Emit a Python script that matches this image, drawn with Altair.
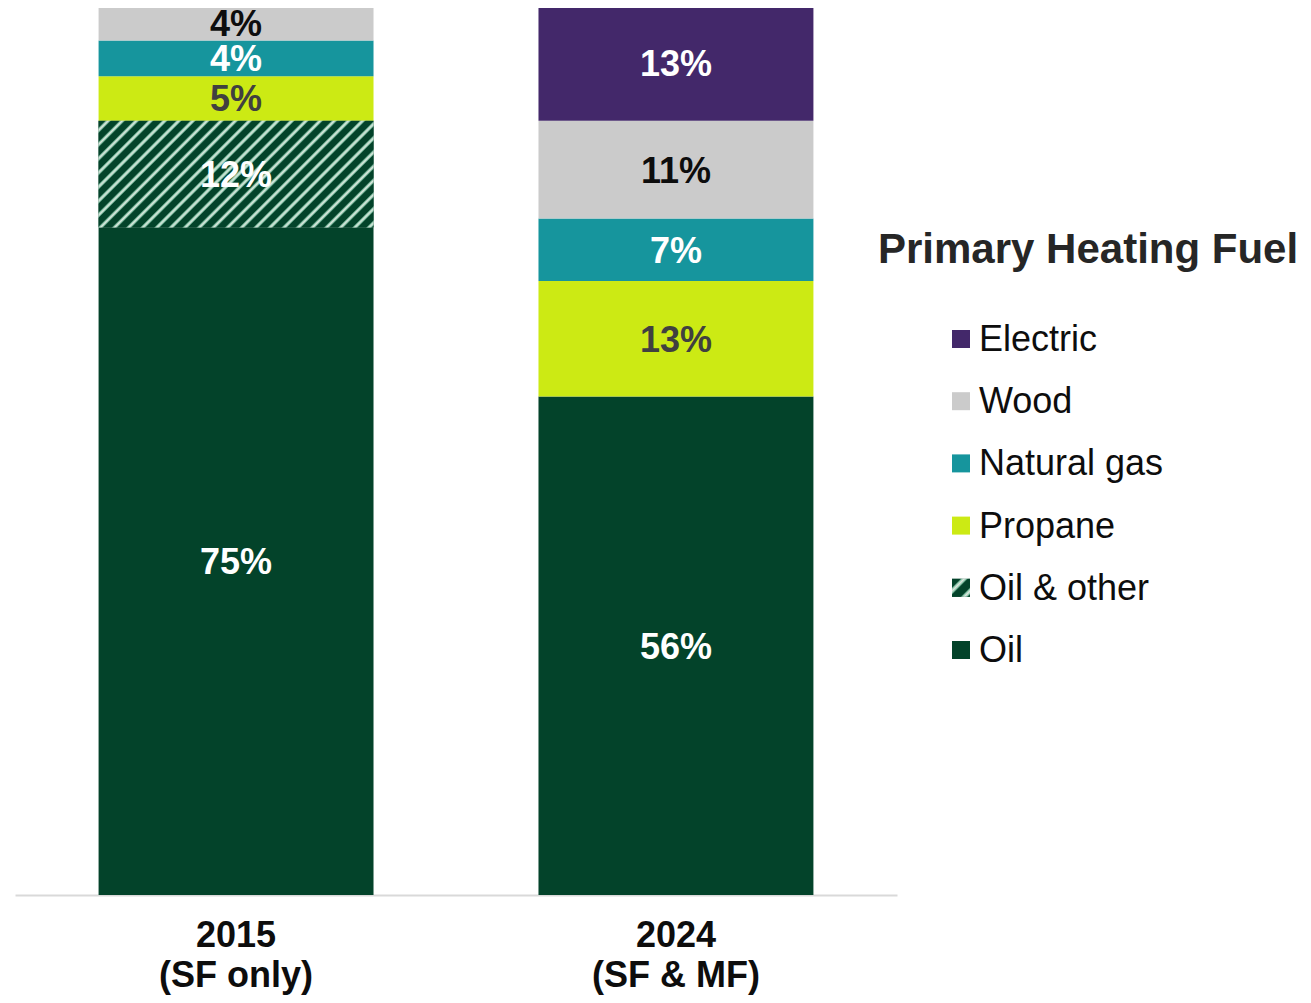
import altair as alt
import pandas as pd

# ---------------- data ----------------
years = ["2015 (SF only)", "2024 (SF & MF)"]
fuels = ["Oil", "Oil & other", "Propane", "Natural gas", "Wood", "Electric"]  # bottom -> top
share_2015 = [75, 12, 5, 4, 4, 0]
share_2024 = [56, 0, 13, 7, 11, 13]
fuel_colors = ["#03432A", "#03432A", "#CCEA14", "#16959D", "#CBCBCB", "#43286A"]
label_colors = ["#FFFFFF", "#FFFFFF", "#404040", "#FFFFFF", "#0D0D0D", "#FFFFFF"]
legend_order = ["Electric", "Wood", "Natural gas", "Propane", "Oil & other", "Oil"]
legend_title = "Primary Heating Fuel"
hatched_fuel = "Oil & other"

rows = []
for yr, vals in zip(years, [share_2015, share_2024]):
    for i, (f, v) in enumerate(zip(fuels, vals)):
        if v > 0:
            rows.append({"year": yr, "fuel": f, "value": v, "rank": i, "tcolor": label_colors[i]})
df = pd.DataFrame(rows)
df_leg = pd.DataFrame({"fuel": legend_order})
df_title = pd.DataFrame({"t": [legend_title]})

# ---------------- styling helpers ----------------
FONT = "Liberation Sans"
DARK = "#03432A"
MINT = "#93CDB2"
LIGHT = "#DEE5DE"


def stripes(n, x2, y2):
    stops = []
    for i in range(n):
        b = i / n
        w = 1.0 / n
        for off, col in [(0.0, DARK), (0.45, DARK), (0.57, MINT), (0.68, LIGHT), (0.79, MINT), (0.91, DARK)]:
            stops.append({"offset": round(b + off * w, 5), "color": col})
    stops.append({"offset": 1, "color": DARK})
    return {"gradient": "linear", "stops": stops, "x1": 0, "y1": 0, "x2": x2, "y2": y2}


# bar bbox ~ 275 x 107 px -> stripes at 45 degrees
W, H = 275.0, 106.8
r = H / W
k = (1 + r) / (1 + r * r)
bar_grad = stripes(27, round(k, 4), round(k * r, 4))
sym_grad = stripes(2, 1, 1)

xscale = alt.Scale(domain=years, range=[0, 882], paddingInner=0.375, paddingOuter=0.19)
yscale = alt.Scale(domain=[0, 100], range=[887, -3], nice=False, zero=True)
cscale = alt.Scale(domain=fuels, range=fuel_colors)

x_enc = alt.X(
    "year:N",
    sort=years,
    scale=xscale,
    title=None,
    axis=alt.Axis(
        labelExpr="[slice(datum.label,0,4), slice(datum.label,5)]",
        labelFont=FONT,
        labelFontSize=36,
        labelFontWeight="bold",
        labelColor="#0D0D0D",
        labelPadding=23,
        labelLineHeight=40,
        labelAngle=0,
        ticks=False,
        grid=False,
        domainColor="#D9D9D9",
        domainWidth=2,
    ),
)

base = alt.Chart(df).transform_stack(
    stack="value", groupby=["year"], as_=["y0", "y1"], sort=[alt.SortField("rank", order="ascending")]
)

bars = base.mark_bar().encode(
    x=x_enc,
    y=alt.Y("y0:Q", scale=yscale, axis=None),
    y2="y1:Q",
    color=alt.Color("fuel:N", scale=cscale, legend=None),
)

hatch = base.transform_filter(alt.datum.fuel == hatched_fuel).mark_bar(fill=bar_grad).encode(
    x=x_enc,
    y=alt.Y("y0:Q", scale=yscale, axis=None),
    y2="y1:Q",
)

labels = base.transform_calculate(
    mid="(datum.y0 + datum.y1) / 2", lbl="datum.value + '%'"
).mark_text(font=FONT, fontSize=36, fontWeight="bold", baseline="middle", dy=2).encode(
    x=x_enc,
    y=alt.Y("mid:Q", scale=yscale, axis=None),
    text="lbl:N",
    fill=alt.Fill("tcolor:N", scale=None),
)

bar_layer = alt.layer(bars, hatch, labels)

# ---------------- manual legend ----------------
lscale = alt.Scale(type="point", domain=legend_order, range=[331, 642], padding=0)
ly = alt.Y("fuel:N", sort=legend_order, scale=lscale, axis=None)

leg_sq = alt.Chart(df_leg).mark_square(size=324, opacity=1).encode(
    x=alt.value(946),
    y=ly,
    color=alt.Color("fuel:N", scale=cscale, legend=None),
)
leg_hatch = alt.Chart(df_leg).transform_filter(alt.datum.fuel == hatched_fuel).mark_square(
    size=324, opacity=1, fill=sym_grad
).encode(x=alt.value(946), y=ly)
leg_txt = alt.Chart(df_leg).mark_text(
    align="left", baseline="middle", font=FONT, fontSize=36, color="#0D0D0D", dy=1
).encode(x=alt.value(964), y=ly, text="fuel:N")
leg_title = alt.Chart(df_title).mark_text(
    align="left", baseline="middle", font=FONT, fontSize=42, fontWeight="bold", color="#262626", x=863, y=242
).encode(text="t:N")

legend_layer = alt.layer(leg_sq, leg_hatch, leg_txt, leg_title)

chart = (
    alt.layer(bar_layer, legend_layer)
    .resolve_scale(y="independent")
    .properties(
        width=1288,
        height=887,
        autosize=alt.AutoSizeParams(type="none"),
        padding={"left": 7, "top": 0, "right": 0, "bottom": 100},
    )
    .configure_view(stroke=None)
)

chart.save("out.html", embed_options={"renderer": "svg", "actions": False})
